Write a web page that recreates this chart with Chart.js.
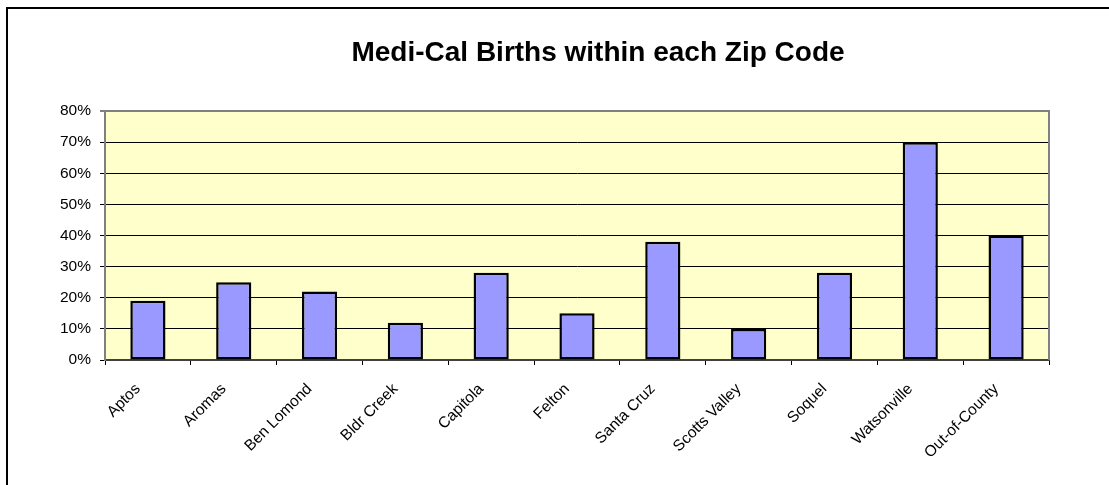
<!DOCTYPE html>
<html>
<head>
<meta charset="utf-8">
<script src="https://cdn.jsdelivr.net/npm/chart.js@4.4.0/dist/chart.umd.min.js"></script>
<style>
  html, body { margin: 0; padding: 0; background: #ffffff; }
  #wrap { position: relative; width: 1109px; height: 485px; }
  canvas { display: block; }
</style>
</head>
<body>
<div id="wrap"><canvas id="c" width="1109" height="485"></canvas></div>
<script>
const chartTitle = 'Medi-Cal Births within each Zip Code';
const categories = ['Aptos', 'Aromas', 'Ben Lomond', 'Bldr Creek', 'Capitola', 'Felton', 'Santa Cruz', 'Scotts Valley', 'Soquel', 'Watsonville', 'Out-of-County'];
const mediCalPct = [19, 25, 22, 12, 28, 15, 38, 10, 28, 70, 40];
const yTickValues = [0, 10, 20, 30, 40, 50, 60, 70, 80];
const yTickLabels = ['0%', '10%', '20%', '30%', '40%', '50%', '60%', '70%', '80%'];

const FONT = "'Liberation Sans', Arial, sans-serif";

const framePlugin = {
  id: 'framePlugin',
  beforeDraw(chart) {
    const { ctx, chartArea: a } = chart;
    ctx.save();
    ctx.fillStyle = '#FFFFCC';
    ctx.fillRect(a.left, a.top, a.right - a.left, a.bottom - a.top);
    ctx.restore();
  },
  afterDraw(chart) {
    const { ctx, chartArea: a } = chart;
    ctx.save();
    // plot area right border
    ctx.strokeStyle = '#808080';
    ctx.lineWidth = 2;
    ctx.beginPath();
    ctx.moveTo(a.right, a.top - 1);
    ctx.lineTo(a.right, a.bottom);
    ctx.stroke();
    // outer chart frame (left and top edges)
    ctx.strokeStyle = '#000000';
    ctx.lineWidth = 2;
    ctx.beginPath();
    ctx.moveTo(7, 485);
    ctx.lineTo(7, 8);
    ctx.lineTo(1109, 8);
    ctx.stroke();
    // title
    ctx.fillStyle = '#000000';
    ctx.font = "bold 28px " + FONT;
    ctx.textAlign = 'center';
    ctx.textBaseline = 'alphabetic';
    ctx.fillText(chartTitle, 598, 61);
    ctx.restore();
  }
};

new Chart(document.getElementById('c'), {
  type: 'bar',
  data: {
    labels: categories,
    datasets: [{
      data: mediCalPct,
      backgroundColor: '#9999FF',
      borderColor: '#000000',
      borderWidth: 2.5,
      borderSkipped: false,
      barPercentage: 0.41,
      categoryPercentage: 1.0
    }]
  },
  options: {
    responsive: false,
    animation: false,
    devicePixelRatio: 1,
    layout: { padding: { left: 0, right: 60, top: 111, bottom: 0 } },
    plugins: {
      legend: { display: false },
      title: { display: false },
      tooltip: { enabled: false }
    },
    scales: {
      x: {
        type: 'category',
        offset: true,
        grid: {
          display: true,
          offset: true,
          drawOnChartArea: false,
          drawTicks: true,
          tickLength: 5,
          color: '#000000',
          lineWidth: 1
        },
        border: { display: true, color: '#404040', width: 2 },
        ticks: {
          minRotation: 45,
          maxRotation: 45,
          autoSkip: false,
          padding: 15,
          labelOffset: -10,
          color: '#000000',
          font: { family: FONT, size: 15.5 }
        },
        afterFit(scale) { scale.height = 125; }
      },
      y: {
        min: 0,
        max: 80,
        afterBuildTicks(scale) { scale.ticks = yTickValues.map(v => ({ value: v })); },
        grid: {
          display: true,
          drawTicks: true,
          tickLength: 5,
          color: (c) => (c.tick && c.tick.value === 80) ? '#808080' : '#000000',
          lineWidth: (c) => (c.tick && c.tick.value === 80) ? 2 : 1
        },
        border: { display: true, color: '#808080', width: 2 },
        ticks: {
          padding: 9,
          color: '#000000',
          font: { family: FONT, size: 15.5 },
          callback: (v) => yTickLabels[yTickValues.indexOf(v)]
        },
        afterFit(scale) { scale.width = 105; }
      }
    }
  },
  plugins: [framePlugin]
});
</script>
</body>
</html>
